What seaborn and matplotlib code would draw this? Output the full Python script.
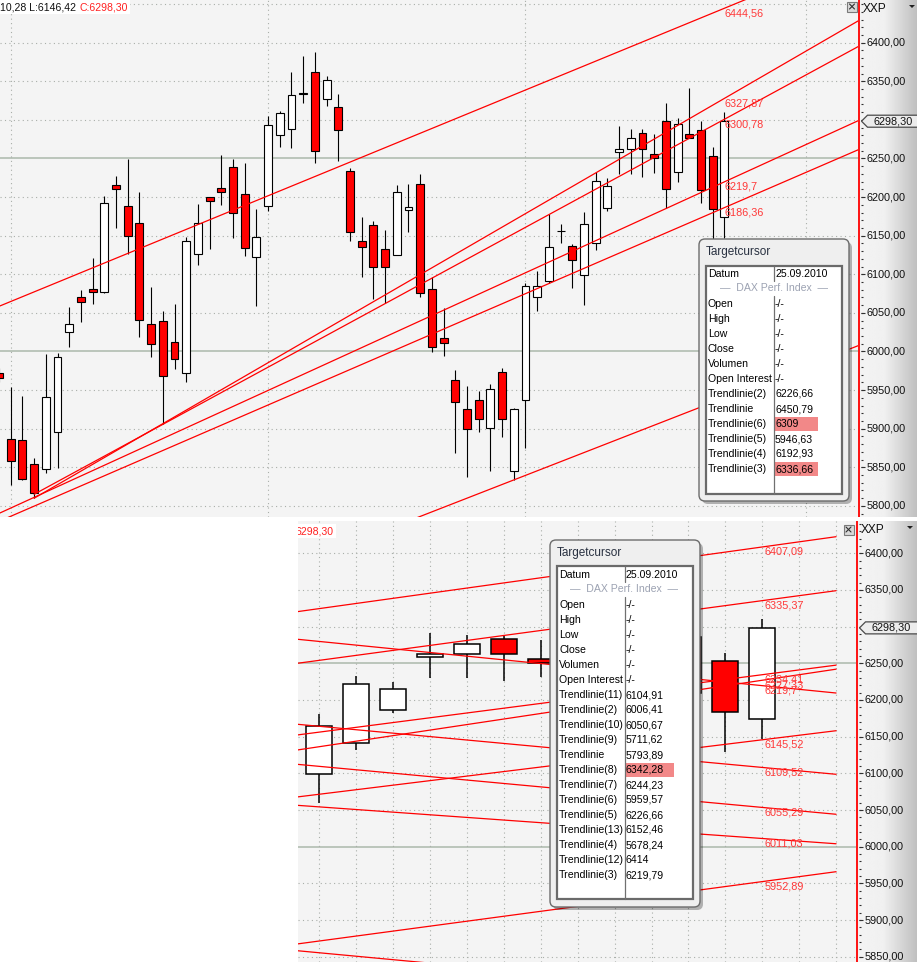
import numpy as np
import pandas as pd
import matplotlib
matplotlib.use("Agg")
import matplotlib.pyplot as plt
import seaborn as sns
from matplotlib.patches import FancyBboxPatch, Rectangle, Polygon

# ---------------- data ----------------
bar_index = list(range(-1, 62))
opens = [5972.2, 5886.3, 5885.0, 5853.9, 5847.4, 5896.1, 6025.7, 6070.2, 6081.0, 6077.5,
         6215.7, 6188.1, 6166.1, 6035.2, 6039.1, 6011.9, 5971.8, 6125.9, 6200.5, 6211.4,
         6238.6, 6203.6, 6122.8, 6188.5, 6280.1, 6287.8, 6334.0, 6361.7, 6326.7, 6316.3,
         6234.2, 6142.8, 6163.5, 6132.4, 6125.4, 6182.9, 6216.6, 6080.6, 6017.1, 5963.1,
         5925.1, 5937.2, 5900.5, 5973.1, 5845.6, 5937.2, 6071.0, 6091.7, 6156.0, 6137.1,
         6098.7, 6141.0, 6186.0, 6258.2, 6262.3, 6282.8, 6255.5, 6298.2, 6232.1, 6281.3,
         6286.3, 6252.8, 6173.7]
highs = [5978.0, 5954.4, 5942.4, 5861.7, 5996.8, 5998.5, 6058.0, 6079.7, 6120.7, 6201.4,
         6227.3, 6249.4, 6207.0, 6084.0, 6052.5, 6061.5, 6147.9, 6191.1, 6200.5, 6254.5,
         6249.0, 6243.8, 6184.6, 6305.1, 6311.5, 6362.0, 6382.8, 6388.0, 6356.9, 6333.6,
         6237.3, 6173.8, 6169.0, 6157.4, 6215.7, 6217.0, 6229.9, 6096.9, 6056.0, 5976.0,
         5955.3, 5949.2, 5957.5, 5978.3, 5926.4, 6088.4, 6104.3, 6177.7, 6165.2, 6138.9,
         6180.9, 6232.7, 6224.9, 6291.8, 6288.6, 6287.7, 6281.8, 6321.5, 6302.1, 6340.9,
         6299.0, 6264.5, 6310.28]
lows = [5960.0, 5827.1, 5833.6, 5809.9, 5842.3, 5848.7, 6006.2, 6038.6, 6061.5, 6076.2,
        6159.6, 6126.3, 6018.4, 5993.3, 5906.1, 5977.0, 5960.9, 6112.1, 6132.4, 6189.8,
        6147.4, 6123.7, 6059.3, 6182.4, 6265.3, 6264.0, 6321.5, 6244.6, 6318.4, 6247.2,
        6143.5, 6096.9, 6068.0, 6062.4, 6124.6, 6155.2, 6071.0, 5999.8, 5994.2, 5868.9,
        5837.8, 5896.1, 5845.6, 5889.7, 5833.6, 5875.4, 6052.9, 6088.4, 6140.9, 6082.6,
        6060.0, 6131.8, 6181.9, 6230.4, 6230.4, 6225.9, 6231.8, 6185.5, 6220.0, 6276.2,
        6192.7, 6128.7, 6146.42]
closes = [5965.7, 5857.8, 5834.5, 5816.3, 5940.7, 5992.5, 6035.6, 6064.5, 6077.5, 6192.0,
          6210.1, 6149.2, 6040.4, 6009.3, 5967.9, 5989.9, 6142.8, 6166.1, 6194.6, 6207.0,
          6179.0, 6134.5, 6147.9, 6293.0, 6308.6, 6331.9, 6334.5, 6259.3, 6351.3, 6286.9,
          6154.4, 6135.0, 6109.9, 6109.9, 6206.2, 6186.8, 6075.4, 6005.4, 6010.6, 5935.0,
          5899.2, 5912.2, 5951.0, 5912.2, 5925.1, 6084.9, 6084.9, 6135.0, 6156.5, 6118.5,
          6164.6, 6221.4, 6215.0, 6262.7, 6276.3, 6262.3, 6250.0, 6210.0, 6294.3, 6276.6,
          6209.1, 6184.0, 6298.30]

# trendlines of the upper chart: start/end (bar index, price) and label at last bar
top_line_x0 = [-0.92, 2.0, 2.0, -0.92, -0.92, 30.0]
top_line_y0 = [6059.0, 5809.9, 5815.0, 5790.8, 5780.5, 5756.8]
top_line_x1 = [72.5, 72.5, 72.5, 72.5, 72.5, 72.5]
top_line_y1 = [6516.2, 6428.8, 6395.5, 6299.4, 6261.7, 6007.9]
top_line_labels = ["6444,56", "6327,87", "6300,78", "6219,7", "6186,36", ""]

# trendlines of the lower (zoomed) chart
bot_line_x0 = [48.4] * 11
bot_line_y0 = [6320.4, 6250.0, 6282.8, 6152.3, 6131.8, 6067.8, 6166.9, 6112.3, 6056.4, 5867.4, 5858.2]
bot_line_x1 = [63.0] * 11
bot_line_y1 = [6422.6, 6349.0, 6209.5, 6247.5, 6242.0, 6158.1, 6098.7, 6044.2, 6004.0, 5965.9, 5789.4]
bot_line_labels = ["6407,09", "6335,37", "6219,7", "6234,41", "6227,33", "6145,52",
                   "6109,52", "6055,29", "6011,03", "5952,89", ""]

label_bar = 61
last_close_text = "6298,30"
header_left = "10,28 L:6146,42"
header_close = "C:6298,30"

tip_date = "25.09.2010"
tip_title = "Targetcursor"
tip_instrument = "—  DAX Perf. Index  —"
base_rows = ["Open", "High", "Low", "Close", "Volumen", "Open Interest"]
top_tip_names = base_rows + ["Trendlinie(2)", "Trendlinie", "Trendlinie(6)", "Trendlinie(5)",
                             "Trendlinie(4)", "Trendlinie(3)"]
top_tip_values = ["-/-"] * 6 + ["6226,66", "6450,79", "6309", "5946,63", "6192,93", "6336,66"]
top_tip_highlight = ["Trendlinie(6)", "Trendlinie(3)"]
bot_tip_names = base_rows + ["Trendlinie(11)", "Trendlinie(2)", "Trendlinie(10)", "Trendlinie(9)",
                             "Trendlinie", "Trendlinie(8)", "Trendlinie(7)", "Trendlinie(6)",
                             "Trendlinie(5)", "Trendlinie(13)", "Trendlinie(4)", "Trendlinie(12)",
                             "Trendlinie(3)"]
bot_tip_values = ["-/-"] * 6 + ["6104,91", "6006,41", "6050,67", "5711,62", "5793,89", "6342,28",
                                "6244,23", "5959,57", "6226,66", "6152,46", "5678,24", "6414",
                                "6219,79"]
bot_tip_highlight = ["Trendlinie(8)"]

# ---------------- styling ----------------
sns.set_theme(style="white")
plt.rcParams["font.family"] = ["Liberation Sans", "DejaVu Sans"]

W, H = 917, 975
fig = plt.figure(figsize=(W / 100, H / 100), dpi=100, facecolor="white")


def px_axes(x0, y0, x1, y1):
    return fig.add_axes([x0 / W, 1 - y1 / H, (x1 - x0) / W, (y1 - y0) / H])


ax_top = px_axes(0, 0, 858, 517)
ax_top_s = px_axes(858, 0, 917, 517)
ax_bot = px_axes(298, 521, 856, 962)
ax_bot_s = px_axes(856, 521, 917, 962)

TOP_XLIM = (-0.915, 72.42)
TOP_YLIM = (5785.6, 6455.3)
BOT_XLIM = (48.42, 63.54)
BOT_YLIM = (5842.8, 6444.0)

df = pd.DataFrame({"idx": bar_index, "open": opens, "high": highs, "low": lows, "close": closes})

RED = "#ff0000"
LABEL_RED = "#ff3838"


def lines_frame(x0, y0, x1, y1):
    rows = []
    for i in range(len(x0)):
        rows.append({"line": i, "idx": x0[i], "price": y0[i]})
        rows.append({"line": i, "idx": x1[i], "price": y1[i]})
    return pd.DataFrame(rows)


def style_main(ax, xlim, ylim, vgrid):
    ax.set_facecolor("#f4f4f4")
    for s in ax.spines.values():
        s.set_visible(False)
    levels = np.arange(5800, 6451, 50)
    dotted = [v for v in levels if v not in (6000, 6250)]
    ax.hlines(dotted, xlim[0], xlim[1], colors="#a9aea9", linestyles=(0, (1, 3)), lw=0.8, zorder=1)
    ax.hlines([6000, 6250], xlim[0], xlim[1], colors="#b7c2b7", lw=1.3, zorder=1)
    ax.vlines(vgrid, ylim[0], ylim[1], colors="#a9aea9", linestyles=(0, (1, 3)), lw=0.8, zorder=1)


def draw_candles(ax, data, width, lw):
    o = data["open"].values
    c = data["close"].values
    cols = np.where(c >= o, "white", RED)
    ax.vlines(data["idx"], data["low"], data["high"], color="black", lw=lw, zorder=3)
    ax.bar(data["idx"], np.maximum(np.abs(c - o), 0.4), bottom=np.minimum(o, c), width=width,
           color=cols, edgecolor="black", linewidth=lw, zorder=4)


def draw_lines(ax, x0, y0, x1, y1, labels):
    lf = lines_frame(x0, y0, x1, y1)
    sns.lineplot(data=lf, x="idx", y="price", units="line", estimator=None, color=RED,
                 lw=0.9, ax=ax, legend=False, zorder=5)
    for i, lab in enumerate(labels):
        if not lab:
            continue
        v = y0[i] + (label_bar - x0[i]) * (y1[i] - y0[i]) / (x1[i] - x0[i])
        ax.text(label_bar + 0.05, v, lab, va="top", ha="left", color=LABEL_RED,
                fontsize=7.8, zorder=6, clip_on=True)


# upper chart
style_main(ax_top, TOP_XLIM, TOP_YLIM, [0, 22, 44, 68])
draw_candles(ax_top, df, 0.68, 0.8)
draw_lines(ax_top, top_line_x0, top_line_y0, top_line_x1, top_line_y1, top_line_labels)
ax_top.set_xlim(*TOP_XLIM)
ax_top.set_ylim(*TOP_YLIM)

# lower chart (zoom on the last bars)
style_main(ax_bot, BOT_XLIM, BOT_YLIM, list(range(49, 64)))
draw_candles(ax_bot, df[df["idx"] >= 48], 0.70, 1.1)
draw_lines(ax_bot, bot_line_x0, bot_line_y0, bot_line_x1, bot_line_y1, bot_line_labels)
ax_bot.set_xlim(*BOT_XLIM)
ax_bot.set_ylim(*BOT_YLIM)

for ax in (ax_top, ax_bot):
    ax.set_xticks([])
    ax.set_yticks([])
    ax.set_xlabel("")
    ax.set_ylabel("")

# header texts
ax_top.text(0.5 / 858, 1 - 7 / 517, header_left, transform=ax_top.transAxes, fontsize=7.6,
            color="#101010", va="center", ha="left", zorder=8,
            bbox=dict(fc="white", ec="none", pad=1.5))
ax_top.text(80 / 858, 1 - 7 / 517, header_close, transform=ax_top.transAxes, fontsize=7.6,
            color="#ff2020", va="center", ha="left", zorder=8,
            bbox=dict(fc="white", ec="none", pad=1.5))
ax_bot.text(-2.5 / 558, 1 - 10 / 441, last_close_text, transform=ax_bot.transAxes, fontsize=7.6,
            color="#ff2020", va="center", ha="left", zorder=8, clip_on=True,
            bbox=dict(fc="white", ec="none", pad=1.5))


# price strips on the right
def price_strip(ax, ylim, width_px, labels_range, hidden_near):
    ax.set_xlim(0, width_px)
    ax.set_ylim(*ylim)
    t = np.linspace(0, 1, 200)
    g = np.where(t < 0.45, 0.955 - 0.03 * t, 0.9415 - (t - 0.45) / 0.55 * 0.19)
    ax.imshow(np.tile(g, (2, 1)), extent=[0, width_px, ylim[0], ylim[1]], aspect="auto",
              cmap="gray", vmin=0, vmax=1, zorder=0)
    for s in ax.spines.values():
        s.set_visible(False)
    ax.axvline(0.6, color="red", lw=1.3, zorder=3)
    ax.set_xticks([])
    ax.set_yticks([])
    minors = np.arange(5780, 6460, 10)
    ax.hlines(minors, 2.5, 4.8, colors="#303030", lw=0.8, zorder=2)
    majors = np.arange(labels_range[0], labels_range[1] + 1, 50)
    ax.hlines(majors, 2.5, 6.5, colors="#303030", lw=0.8, zorder=2)
    for v in majors:
        if abs(v - hidden_near) < 14:
            continue  # covered by the last-price marker in the original
        ax.text(8.5, v, f"{v:.2f}".replace(".", ","), fontsize=7.8, va="center", ha="left",
                color="#101010", zorder=3)
    ax.set_xlim(0, width_px)
    ax.set_ylim(*ylim)


price_strip(ax_top_s, TOP_YLIM, 59, (5800, 6400), closes[-1])
price_strip(ax_bot_s, BOT_YLIM, 61, (5850, 6400), closes[-1])

# overlay in pixel coordinates (tooltips, markers)
ov = fig.add_axes([0, 0, 1, 1])
ov.set_xlim(0, W)
ov.set_ylim(H, 0)
ov.axis("off")
ov.set_zorder(20)


def top_y(p):
    return (TOP_YLIM[1] - p) / (TOP_YLIM[1] - TOP_YLIM[0]) * 517


def bot_y(p):
    return 521 + (BOT_YLIM[1] - p) / (BOT_YLIM[1] - BOT_YLIM[0]) * 441


def strip_decor(x_left, y_top, marker_y):
    ov.text(x_left + 5, y_top + 9, "XXP", fontsize=8.6, color="#101010", va="center", ha="left")
    ov.add_patch(Polygon([[x_left + 51, y_top + 5], [x_left + 57, y_top + 5], [x_left + 54, y_top + 8]],
                         closed=True, fc="#202020", ec="none"))
    pts = [[x_left + 3.5, marker_y], [x_left + 9.5, marker_y - 6], [W + 2, marker_y - 6],
           [W + 2, marker_y + 6], [x_left + 9.5, marker_y + 6]]
    ov.add_patch(Polygon(pts, closed=True, fc="#ececec", ec="#4a4a4a", lw=0.9))
    ov.text(x_left + 15, marker_y, last_close_text, fontsize=7.8, color="#101010",
            va="center", ha="left")


def close_box(x, y):
    ov.add_patch(Rectangle((x, y), 10, 10, fc="#d8d8d8", ec="#7a7a7a", lw=0.8))
    ov.plot([x + 2.5, x + 7.5], [y + 2.5, y + 7.5], color="#303030", lw=0.8)
    ov.plot([x + 2.5, x + 7.5], [y + 7.5, y + 2.5], color="#303030", lw=0.8)


strip_decor(858, 0, top_y(closes[-1]))
strip_decor(856, 521, bot_y(closes[-1]))
close_box(847, 1.5)
close_box(843.5, 524.5)


def tooltip(box, table, divx, c1x, c2x, datum_y, names, values, highlight, hl_w):
    x0, y0, x1, y1 = box
    ov.add_patch(FancyBboxPatch((x0 + 3, y0 + 3), x1 - x0, y1 - y0,
                                boxstyle="round,pad=0,rounding_size=6",
                                fc="#000000", ec="none", alpha=0.28))
    ov.add_patch(FancyBboxPatch((x0, y0), x1 - x0, y1 - y0,
                                boxstyle="round,pad=0,rounding_size=6",
                                fc="#efefef", ec="#6c6c6c", lw=1.0))
    ov.text(x0 + 7, y0 + 13, tip_title, fontsize=8.5, color="#283040", va="center", ha="left")
    tx0, ty0, tx1, ty1 = table
    ov.add_patch(Rectangle((tx0, ty0), tx1 - tx0, ty1 - ty0, fc="white", ec="#6a6a6a", lw=1.6))
    ov.plot([divx, divx], [ty0, datum_y + 7], color="#707070", lw=0.9)
    ov.plot([divx, divx], [datum_y + 22, ty1], color="#707070", lw=0.9)
    ov.text(c1x, datum_y, "Datum", fontsize=7.6, color="black", va="center", ha="left")
    ov.text(c2x, datum_y, tip_date, fontsize=7.6, color="black", va="center", ha="left")
    ov.text(divx, datum_y + 14, tip_instrument, fontsize=7.6, color="#9ca2b2",
            va="center", ha="center")
    for i, (nm, val) in enumerate(zip(names, values)):
        y = datum_y + 30 + 15 * i
        if nm in highlight:
            ov.add_patch(Rectangle((divx + 1, y - 6.8), hl_w, 13.6, fc="#f28888", ec="none"))
        ov.text(c1x, y, nm, fontsize=7.6, color="black", va="center", ha="left")
        ov.text(c2x, y, val, fontsize=7.6, color="black", va="center", ha="left")


tooltip((699, 239, 849, 501), (705.5, 265.5, 842, 493.5), 773.5, 708, 775, 274,
        top_tip_names, top_tip_values, top_tip_highlight, 43)
tooltip((550, 540, 700, 907), (556.5, 566, 692.5, 898.5), 624.5, 559, 626, 575,
        bot_tip_names, bot_tip_values, bot_tip_highlight, 48)

fig.savefig("out.png", dpi=100, facecolor="white")
